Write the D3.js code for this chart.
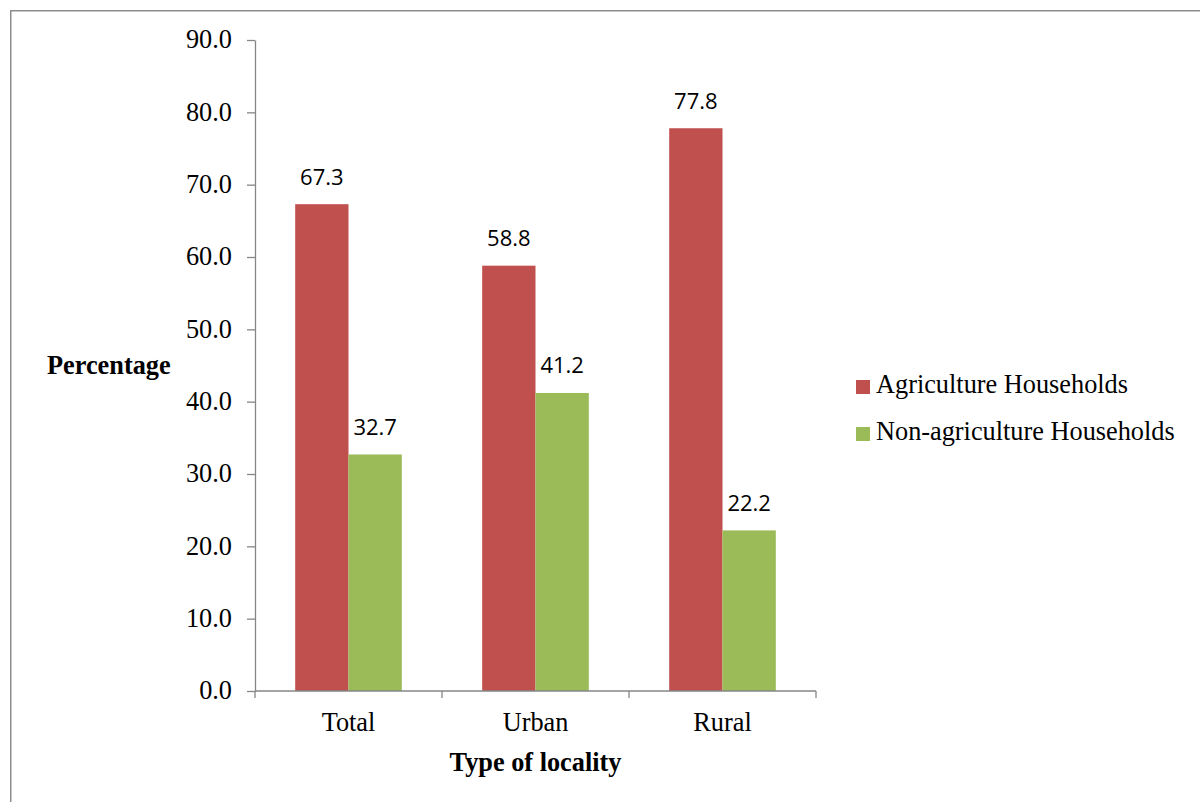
<!DOCTYPE html>
<html>
<head>
<meta charset="utf-8">
<script src="https://cdn.jsdelivr.net/npm/d3@7"></script>
<style>
  html, body { margin: 0; padding: 0; background: #fff; }
  svg { display: block; }
</style>
</head>
<body>
<svg id="chart" width="1200" height="802"></svg>
<script>
// Household type share by locality
const categories = ["Total", "Urban", "Rural"];
const seriesNames = ["Agriculture Households", "Non-agriculture Households"];
const agricultureValues = [67.3, 58.8, 77.8];
const nonAgricultureValues = [32.7, 41.2, 22.2];
const yTicks = [0, 10, 20, 30, 40, 50, 60, 70, 80, 90];
const seriesColors = ["#C0504D", "#9BBB59"];

const svg = d3.select("#chart");
const serif = "'Liberation Serif', 'Times New Roman', serif";
const sans = "'Open Sans', 'Noto Sans', sans-serif";
const textSize = 26.3;

// outer frame
svg.append("rect")
  .attr("x", 10.75).attr("y", 10.75)
  .attr("width", 1200).attr("height", 820)
  .attr("fill", "none")
  .attr("stroke", "#8e8e8e")
  .attr("stroke-width", 1.5);

const plot = { left: 255, right: 816, top: 40, bottom: 691 };

const x = d3.scaleBand()
  .domain(categories)
  .range([plot.left, plot.right])
  .paddingInner(0)
  .paddingOuter(0);

const x1 = d3.scaleBand()
  .domain(seriesNames)
  .range([0, x.bandwidth()])
  .paddingInner(0)
  .paddingOuter(0.754);

const y = d3.scaleLinear().domain([0, 90]).range([plot.bottom, plot.top]);

const rows = categories.map((c, i) => ({
  category: c,
  values: [agricultureValues[i], nonAgricultureValues[i]]
}));

// bars
const groups = svg.append("g").selectAll("g")
  .data(rows).join("g")
  .attr("transform", d => `translate(${x(d.category)},0)`);

groups.selectAll("rect")
  .data(d => d.values.map((v, j) => ({ name: seriesNames[j], value: v, j })))
  .join("rect")
  .attr("x", d => x1(d.name))
  .attr("width", x1.bandwidth())
  .attr("y", d => y(d.value))
  .attr("height", d => y(0) - y(d.value))
  .attr("fill", d => seriesColors[d.j]);

// value labels
groups.selectAll("text")
  .data(d => d.values.map((v, j) => ({ name: seriesNames[j], value: v })))
  .join("text")
  .attr("x", d => x1(d.name) + x1.bandwidth() / 2)
  .attr("y", d => y(d.value) - 19.5)
  .attr("text-anchor", "middle")
  .attr("font-family", sans)
  .attr("font-size", 22)
  .attr("fill", "#000")
  .text(d => d.value.toFixed(1));

// y axis
const yAxis = svg.append("g")
  .attr("transform", `translate(${plot.left},0)`)
  .call(d3.axisLeft(y).tickValues(yTicks).tickSize(8).tickPadding(15)
    .tickSizeOuter(0).tickFormat(d3.format(".1f")));
yAxis.select(".domain").attr("stroke", "#868686").attr("stroke-width", 1.3);
yAxis.selectAll(".tick line").attr("stroke", "#868686").attr("stroke-width", 1.3);
yAxis.selectAll(".tick text")
  .attr("font-family", serif).attr("font-size", textSize).attr("fill", "#000")
  .attr("dy", "0.3em");

// x axis with boundary ticks between categories
const xAxisG = svg.append("g").attr("transform", `translate(0,${plot.bottom})`);
xAxisG.append("line")
  .attr("x1", plot.left).attr("x2", plot.right)
  .attr("stroke", "#868686").attr("stroke-width", 1.3);
const boundaries = categories.map(c => x(c)).concat([x.range()[1]]);
xAxisG.selectAll("line.bound")
  .data(boundaries).join("line")
  .attr("class", "bound")
  .attr("x1", d => d).attr("x2", d => d)
  .attr("y1", 0).attr("y2", 7)
  .attr("stroke", "#868686").attr("stroke-width", 1.3);
xAxisG.selectAll("text")
  .data(categories).join("text")
  .attr("x", d => x(d) + x.bandwidth() / 2)
  .attr("y", 40)
  .attr("text-anchor", "middle")
  .attr("font-family", serif).attr("font-size", textSize).attr("fill", "#000")
  .text(d => d);

// axis titles
svg.append("text")
  .attr("x", 47).attr("y", 374)
  .attr("font-family", serif).attr("font-size", textSize).attr("font-weight", "bold")
  .text("Percentage");
svg.append("text")
  .attr("x", x(categories[1]) + x.bandwidth() / 2).attr("y", 771)
  .attr("text-anchor", "middle")
  .attr("font-family", serif).attr("font-size", textSize).attr("font-weight", "bold")
  .text("Type of locality");

// legend
const legend = svg.append("g").attr("transform", "translate(856,0)");
const legendRows = legend.selectAll("g")
  .data(seriesNames).join("g")
  .attr("transform", (d, i) => `translate(0,${393 + i * 47})`);
legendRows.append("rect")
  .attr("x", 0).attr("y", -13).attr("width", 14).attr("height", 14)
  .attr("fill", (d, i) => seriesColors[i]);
legendRows.append("text")
  .attr("x", 20).attr("y", 0)
  .attr("font-family", serif).attr("font-size", textSize).attr("fill", "#000")
  .text(d => d);
</script>
</body>
</html>
